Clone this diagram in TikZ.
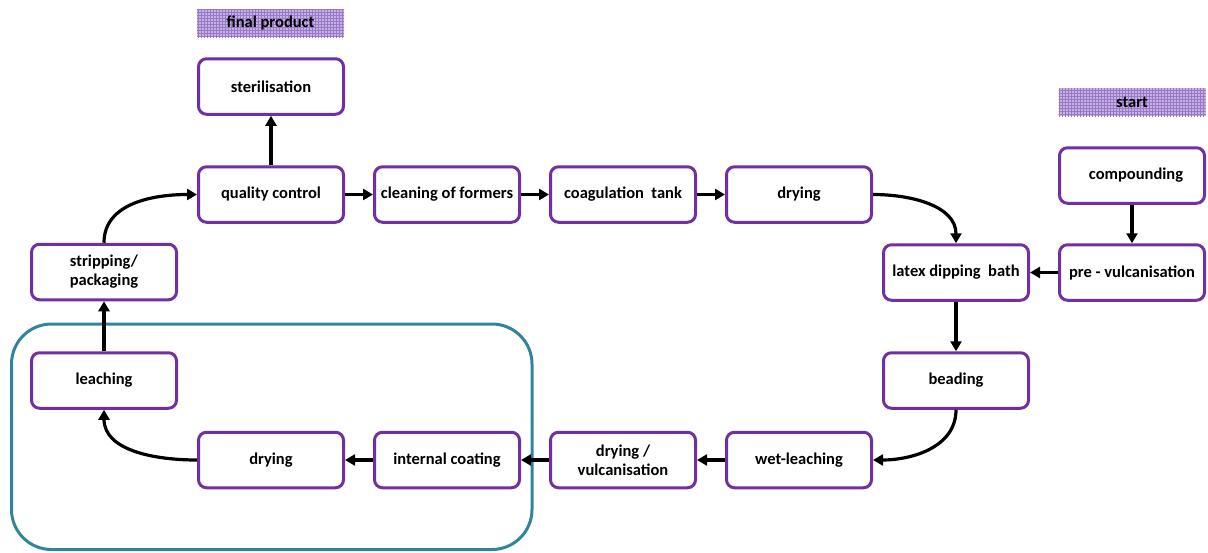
\documentclass[tikz,border=0pt]{standalone}
\usepackage{fontspec}
\setmainfont{Carlito}
\usetikzlibrary{arrows.meta,patterns}
\definecolor{boxpurple}{HTML}{7030A0}
\definecolor{grpteal}{HTML}{31849B}
\definecolor{lblfill}{HTML}{C5B2E2}
\definecolor{lblgrid}{HTML}{9A78C8}
\tikzset{
  stepbox/.style={draw=boxpurple, line width=3pt, rounded corners=8pt, fill=white,
    minimum width=145pt, minimum height=55.5pt, inner sep=2pt, align=center,
    font=\fontsize{16.5}{19}\selectfont\bfseries},
  tagbox/.style={minimum width=147pt, minimum height=28pt, inner sep=0pt,
    fill=lblfill, postaction={pattern=grid, pattern color=lblgrid},
    font=\fontsize{16.5}{19}\selectfont\bfseries},
  flow/.style={line width=3.2pt, -{Triangle[length=10pt,width=11pt]}},
  groupbox/.style={draw=grpteal, line width=3pt, rounded corners=40pt}
}
\begin{document}
\begin{tikzpicture}[x=1pt,y=-1pt]
\useasboundingbox (0,0) rectangle (1208,552);
\draw[groupbox] (11.5,324) rectangle (532,549.5);

\node[tagbox] (final) at (270.5,23) {final product};
\node[tagbox] (start) at (1132,102) {start};

\node[stepbox] (steril) at (271,86.5) {sterilisation};
\node[stepbox] (qc) at (271,194.5) {quality control};
\node[stepbox] (clean) at (447,194.5) {cleaning of formers};
\node[stepbox] (coag) at (623,194.5) {coagulation\ \ tank};
\node[stepbox] (dryA) at (799,194.5) {drying};
\node[stepbox] (latex) at (956,272.5) {latex dipping\ \ bath};
\node[stepbox] (prevulc) at (1132,272.5) {pre - vulcanisation};
\node[stepbox] (compound) at (1132,175.5) {\hspace*{8pt}compounding};
\node[stepbox] (beading) at (956,380.5) {beading};
\node[stepbox] (wetleach) at (799,460) {wet-leaching};
\node[stepbox] (dryvulc) at (623,460) {drying /\\vulcanisation};
\node[stepbox] (intcoat) at (447,460) {internal coating};
\node[stepbox] (dryB) at (271,460) {drying};
\node[stepbox] (leach) at (104,380.5) {leaching};
\node[stepbox] (strip) at (104,272) {stripping/\\packaging};

\draw[flow] (qc.north) -- (steril.south);
\draw[flow] (qc.east) -- (clean.west);
\draw[flow] (clean.east) -- (coag.west);
\draw[flow] (coag.east) -- (dryA.west);
\draw[flow] (dryA.east) to[out=0,in=90] (latex.north);
\draw[flow] (compound.south) -- (prevulc.north);
\draw[flow] (prevulc.west) -- (latex.east);
\draw[flow] (latex.south) -- (beading.north);
\draw[flow] (beading.south) to[out=-90,in=0] (wetleach.east);
\draw[flow] (wetleach.west) -- (dryvulc.east);
\draw[flow] (dryvulc.west) -- (intcoat.east);
\draw[flow] (intcoat.west) -- (dryB.east);
\draw[flow] (dryB.west) to[out=180,in=-90] (leach.south);
\draw[flow] (leach.north) -- (strip.south);
\draw[flow] (strip.north) to[out=90,in=180] (qc.west);
\end{tikzpicture}
\end{document}
